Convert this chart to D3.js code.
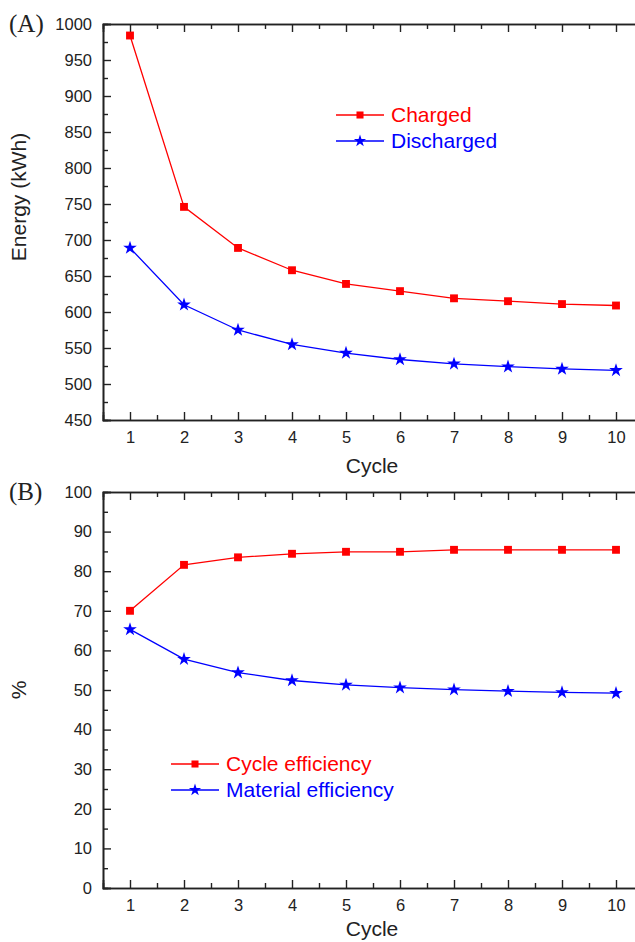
<!DOCTYPE html>
<html>
<head>
<meta charset="utf-8">
<script src="https://cdn.jsdelivr.net/npm/d3@7"></script>
<style>
  html, body { margin: 0; padding: 0; background: #fff; }
  svg { display: block; }
</style>
</head>
<body>
<svg id="chart" width="635" height="942"></svg>
<script>
// ---------------- data ----------------
const cycles = [1, 2, 3, 4, 5, 6, 7, 8, 9, 10];
const charged = [984, 746, 689, 658, 639, 629, 619, 615, 611, 609];
const discharged = [689, 610, 575, 555, 543, 534, 528, 524, 521, 519];
const cycleEfficiency = [70.0, 81.6, 83.5, 84.4, 84.9, 84.9, 85.4, 85.4, 85.4, 85.4];
const materialEfficiency = [65.3, 57.8, 54.4, 52.4, 51.3, 50.6, 50.1, 49.7, 49.4, 49.2];
const energyTicks = [450, 500, 550, 600, 650, 700, 750, 800, 850, 900, 950, 1000];
const percentTicks = [0, 10, 20, 30, 40, 50, 60, 70, 80, 90, 100];
const legendA = ["Charged", "Discharged"];
const legendB = ["Cycle efficiency", "Material efficiency"];

const RED = "#ff0000", BLUE = "#0000ff";
const SANS = "'Liberation Sans', Arial, sans-serif";
const SERIF = "'Liberation Serif', 'Times New Roman', serif";
const svg = d3.select("#chart");

function drawPanel(o) {
  const g = svg.append("g").style("font-family", SANS);
  const x = d3.scaleLinear().domain([0.5, 10.5]).range([103, 643]);
  const y = d3.scaleLinear().domain(o.yDomain).range([o.bottom, o.top]);
  const minorX = d3.range(1.5, 10.5, 1);
  const minorY = o.yTicks.slice(0, -1).map((t, i) => (t + o.yTicks[i + 1]) / 2);

  // bottom axis (ticks inward)
  const bottom = g.append("g").attr("transform", `translate(0,${o.bottom})`)
    .call(d3.axisBottom(x).tickValues(cycles).tickSize(-8).tickFormat(d3.format("d")).tickPadding(11));
  bottom.append("g").call(d3.axisBottom(x).tickValues(minorX).tickSize(-5).tickFormat(""));
  // top axis
  const top = g.append("g").attr("transform", `translate(0,${o.top})`)
    .call(d3.axisTop(x).tickValues(cycles).tickSize(-8).tickFormat(""));
  top.append("g").call(d3.axisTop(x).tickValues(minorX).tickSize(-5).tickFormat(""));
  // left axis
  const left = g.append("g").attr("transform", `translate(103,0)`)
    .call(d3.axisLeft(y).tickValues(o.yTicks).tickSize(-8).tickFormat(d3.format("d")).tickPadding(11));
  left.append("g").call(d3.axisLeft(y).tickValues(minorY).tickSize(-5).tickFormat(""));
  // right axis
  const right = g.append("g").attr("transform", `translate(643,0)`)
    .call(d3.axisRight(y).tickValues(o.yTicks).tickSize(-8).tickFormat(""));
  right.append("g").call(d3.axisRight(y).tickValues(minorY).tickSize(-5).tickFormat(""));

  g.selectAll(".domain").attr("stroke", "#222").attr("stroke-width", 1.6);
  g.selectAll(".tick line").attr("stroke", "#222").attr("stroke-width", 1.4);
  g.selectAll(".tick text").style("font-family", SANS).style("font-size", "16.5px").attr("fill", "#222");

  // axis titles
  g.append("text").attr("x", 372).attr("y", o.bottom + o.xTitleOffset)
    .attr("text-anchor", "middle").style("font-size", "21px").attr("fill", "#222").text("Cycle");
  g.append("text").attr("transform", `translate(26,${(o.top + o.bottom) / 2 + o.yTitleShift}) rotate(-90)`)
    .attr("text-anchor", "middle").style("font-size", "21px").attr("fill", "#222").text(o.yTitle);
  // panel label
  g.append("text").attr("x", 9).attr("y", o.top + 8)
    .style("font-family", SERIF).style("font-size", "25px").attr("fill", "#222").text(o.panel);

  const line = d3.line().x((d, i) => x(cycles[i])).y(d => y(d));
  const series = [
    { vals: o.s1, color: RED, sym: d3.symbolSquare, size: 62 },
    { vals: o.s2, color: BLUE, sym: d3.symbolStar, size: 58 }
  ];
  series.forEach(s => {
    g.append("path").datum(s.vals).attr("d", line)
      .attr("fill", "none").attr("stroke", s.color).attr("stroke-width", 1.3);
    g.selectAll(null).data(s.vals).enter().append("path")
      .attr("d", d3.symbol().type(s.sym).size(s.size))
      .attr("transform", (d, i) => `translate(${x(cycles[i])},${y(d)})`)
      .attr("fill", s.color);
  });

  // legend
  o.legend.forEach((name, i) => {
    const s = series[i];
    const ly = o.legendY + i * 26;
    g.append("line").attr("x1", o.legendX).attr("x2", o.legendX + 48)
      .attr("y1", ly).attr("y2", ly).attr("stroke", s.color).attr("stroke-width", 1.3);
    g.append("path").attr("d", d3.symbol().type(s.sym).size(s.size * 0.8))
      .attr("transform", `translate(${o.legendX + 24},${ly})`).attr("fill", s.color);
    g.append("text").attr("x", o.legendX + 55).attr("y", ly + 7)
      .style("font-size", "21px").attr("fill", s.color).text(name);
  });
}

drawPanel({
  panel: "(A)", top: 24, bottom: 420, yDomain: [450, 1000], yTicks: energyTicks,
  s1: charged, s2: discharged, yTitle: "Energy (kWh)", yTitleShift: -25, xTitleOffset: 53,
  legend: legendA, legendX: 336, legendY: 115
});
drawPanel({
  panel: "(B)", top: 492, bottom: 888, yDomain: [0, 100], yTicks: percentTicks,
  s1: cycleEfficiency, s2: materialEfficiency, yTitle: "%", yTitleShift: 0, xTitleOffset: 48,
  legend: legendB, legendX: 171, legendY: 764
});
</script>
</body>
</html>
